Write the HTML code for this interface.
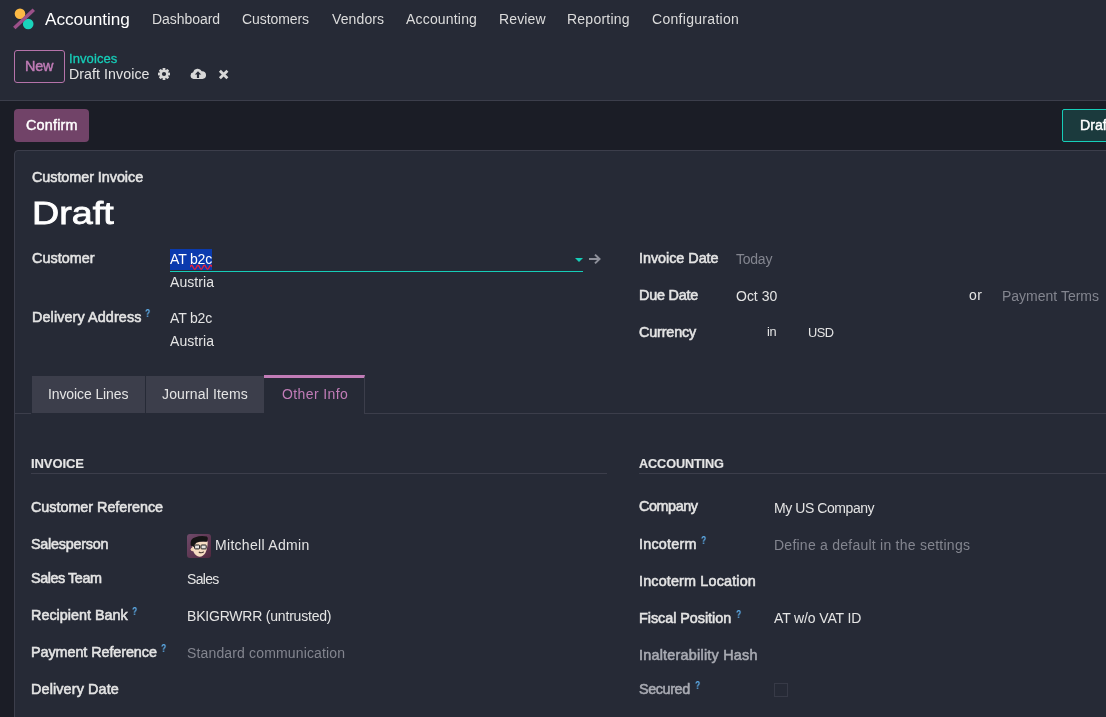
<!DOCTYPE html>
<html><head><meta charset="utf-8"><style>
html,body{margin:0;padding:0;}
body{width:1106px;height:717px;overflow:hidden;position:relative;background:#1b1d26;font-family:"Liberation Sans",sans-serif;}
.t{position:absolute;white-space:nowrap;will-change:transform;}
.r{position:absolute;box-sizing:border-box;}
.qm{font-size:10px;line-height:10px;font-weight:700;color:#5fb0ee;transform:scaleX(0.85);transform-origin:0 0;}
</style></head><body>
<div class="r" style="left:0;top:0;width:1106px;height:100px;background:#262a36"></div>
<div class="r" style="left:0;top:100px;width:1106px;height:1px;background:#3c3e4b"></div>
<svg class="r" style="left:0;top:0" width="40" height="40" viewBox="0 0 40 40">
<circle cx="20" cy="13.7" r="5.3" fill="#fbb945"/>
<circle cx="28.2" cy="24" r="5.3" fill="#1ad3bb"/>
<line x1="14.3" y1="28" x2="33.8" y2="9.8" stroke="#9b5089" stroke-width="3.6"/>
</svg>
<div class="r" style="left:14px;top:50px;width:51px;height:33px;border:1px solid #b673aa;border-radius:3px"></div>
<div class="r" style="left:14px;top:109px;width:75px;height:33px;background:#714368;border-radius:4px"></div>
<div class="r" style="left:1062px;top:109px;width:60px;height:33px;background:#1b3a3d;border:1px solid #16cdb8;border-radius:2px"></div>
<div class="r" style="left:14px;top:150px;width:1110px;height:600px;background:#262a36;border:1px solid #3c3e4b;border-radius:4px"></div>
<!-- selection -->
<div class="r" style="left:170px;top:249px;width:42px;height:21px;background:#0a3aae"></div>
<div class="r" style="left:170px;top:271px;width:413px;height:1px;background:#16cdb8"></div>
<svg class="r" style="left:189.5px;top:263px" width="22.5" height="8" viewBox="0 0 22.5 8"><path d="M0 4.2 Q1.60 0.20 3.20 4.2 Q4.80 8.20 6.40 4.2 Q8.00 0.20 9.60 4.2 Q11.20 8.20 12.80 4.2 Q14.40 0.20 16.00 4.2 Q17.60 8.20 19.20 4.2 Q20.80 0.20 22.40 4.2" fill="none" stroke="#e01f3d" stroke-width="1.4"/></svg>
<svg class="r" style="left:574px;top:257px" width="10" height="6" viewBox="0 0 10 6"><path d="M1 1 H9 L5 5 Z" fill="#16cdb8"/></svg>
<svg class="r" style="left:587px;top:253px" width="15" height="12" viewBox="0 0 15 12"><path d="M2 6 H12.5 M8 1.6 L12.5 6 L8 10.4" fill="none" stroke="#8e909a" stroke-width="2"/></svg>
<!-- tabs -->
<div class="r" style="left:14px;top:413px;width:17px;height:1px;background:#3c3e4b"></div>
<div class="r" style="left:365px;top:413px;width:741px;height:1px;background:#3c3e4b"></div>
<div class="r" style="left:32px;top:376px;width:113px;height:37px;background:#3c3e4b"></div>
<div class="r" style="left:146px;top:376px;width:118px;height:37px;background:#3c3e4b"></div>
<div class="r" style="left:264px;top:375px;width:101px;height:39px;background:#262a36;border-top:3px solid #c17cb7;border-right:1px solid #3c3e4b"></div>
<!-- separators -->
<div class="r" style="left:31px;top:473px;width:576px;height:1px;background:#3c3e4b"></div>
<div class="r" style="left:639px;top:473px;width:467px;height:1px;background:#3c3e4b"></div>
<!-- avatar -->
<svg class="r" style="left:187px;top:534px" width="24" height="24" viewBox="0 0 24 24">
<defs><linearGradient id="ag" x1="0" y1="0" x2="1" y2="1"><stop offset="0" stop-color="#6f4a6a"/><stop offset="1" stop-color="#52283f"/></linearGradient></defs>
<rect x="0" y="0" width="24" height="24" rx="3" fill="url(#ag)"/>
<circle cx="5.6" cy="15.3" r="1.9" fill="#f3d2b4"/>
<path d="M5 7.5 Q4.6 21.5 12.5 22.8 Q20.4 22 20.7 7.5 Z" fill="#f6dcc2"/>
<path d="M3.6 11.5 Q2.6 4.5 8.5 3.2 Q14 1.4 19.8 2.6 Q22 4.5 19.6 7.8 Q14 7 9.5 8.8 Q7.4 10 7.2 13 Z" fill="#151515"/>
<rect x="7.6" y="11" width="5" height="3.9" rx="0.8" fill="#e8e4e0" stroke="#1c1c1c" stroke-width="1"/>
<rect x="14" y="11" width="5.2" height="3.9" rx="0.8" fill="#e8e4e0" stroke="#1c1c1c" stroke-width="1"/>
<path d="M11.8 18 Q14.3 19.6 16.8 17.8" fill="none" stroke="#4a3a35" stroke-width="1.1"/>
</svg>
<!-- checkbox -->
<div class="r" style="left:774px;top:683px;width:14px;height:14px;border:1px solid #373a47"></div>
<!-- icons -->
<svg class="r" style="left:157px;top:67px" width="14" height="14" viewBox="0 0 14 14">
<g transform="translate(7 7)" fill="#d8d8d8">
<circle r="4.3"/>
<rect x="-1.4" y="-6" width="2.8" height="12" rx="0.6"/>
<rect x="-1.4" y="-6" width="2.8" height="12" rx="0.6" transform="rotate(45)"/>
<rect x="-1.4" y="-6" width="2.8" height="12" rx="0.6" transform="rotate(90)"/>
<rect x="-1.4" y="-6" width="2.8" height="12" rx="0.6" transform="rotate(135)"/>
</g><circle cx="7" cy="7" r="2.1" fill="#262a36"/>
</svg>
<svg class="r" style="left:189.6px;top:67px" width="16" height="13" viewBox="0 0 16 13">
<path d="M3.6 12 A3.4 3.4 0 0 1 3.2 5.3 A4.6 4.6 0 0 1 11.8 4.2 A3.9 3.9 0 0 1 12.4 12 Z" fill="#d8d8d8"/>
<path d="M8 4.2 L4.8 7.5 H6.9 V11 H9.1 V7.5 H11.2 Z" fill="#262a36"/>
</svg>
<svg class="r" style="left:218px;top:69px" width="12" height="12" viewBox="0 0 12 12">
<path d="M1.9 1.8 L9.4 9.3 M9.4 1.8 L1.9 9.3" stroke="#d8d8d8" stroke-width="2.8"/>
</svg>
<div class="t" style="left:45.20px;top:11.44px;font-size:17.2px;line-height:17.2px;font-weight:400;color:#ffffff;letter-spacing:-0.012px">Accounting</div><div class="t" style="left:151.80px;top:12.45px;font-size:14px;line-height:14px;font-weight:400;color:#dcdcdc;letter-spacing:-0.049px">Dashboard</div><div class="t" style="left:242.30px;top:12.45px;font-size:14px;line-height:14px;font-weight:400;color:#dcdcdc;letter-spacing:-0.073px">Customers</div><div class="t" style="left:331.90px;top:12.45px;font-size:14px;line-height:14px;font-weight:400;color:#dcdcdc;letter-spacing:0.121px">Vendors</div><div class="t" style="left:405.90px;top:12.45px;font-size:14px;line-height:14px;font-weight:400;color:#dcdcdc;letter-spacing:0.181px">Accounting</div><div class="t" style="left:499.00px;top:12.45px;font-size:14px;line-height:14px;font-weight:400;color:#dcdcdc;letter-spacing:0.119px">Review</div><div class="t" style="left:566.90px;top:12.45px;font-size:14px;line-height:14px;font-weight:400;color:#dcdcdc;letter-spacing:0.237px">Reporting</div><div class="t" style="left:652.40px;top:12.45px;font-size:14px;line-height:14px;font-weight:400;color:#dcdcdc;letter-spacing:0.302px">Configuration</div><div class="t" style="left:24.60px;top:58.91px;font-size:14.4px;line-height:14.4px;font-weight:400;color:#c17cb7;letter-spacing:-0.204px;-webkit-text-stroke:0.45px #c17cb7">New</div><div class="t" style="left:69.40px;top:51.80px;font-size:13px;line-height:13px;font-weight:400;color:#16cdb8;letter-spacing:0.087px;-webkit-text-stroke:0.30px #16cdb8">Invoices</div><div class="t" style="left:68.80px;top:66.98px;font-size:14.2px;line-height:14.2px;font-weight:400;color:#e4e4e4;letter-spacing:0.066px">Draft Invoice</div><div class="t" style="left:25.70px;top:117.91px;font-size:14.4px;line-height:14.4px;font-weight:400;color:#ffffff;letter-spacing:0.182px;-webkit-text-stroke:0.45px #ffffff">Confirm</div><div class="t" style="left:1079.90px;top:117.88px;font-size:14.2px;line-height:14.2px;font-weight:400;color:#ffffff;letter-spacing:0.000px;-webkit-text-stroke:0.45px #ffffff">Draft</div><div class="t" style="left:31.60px;top:169.61px;font-size:14.4px;line-height:14.4px;font-weight:400;color:#e4e4e4;letter-spacing:-0.056px;-webkit-text-stroke:0.55px #e4e4e4">Customer Invoice</div><div class="t" style="left:32.2px;top:198.16px;font-size:31px;line-height:31px;color:#ffffff;-webkit-text-stroke:0.8px #ffffff;transform:scaleX(1.2151);transform-origin:0 0">Draft</div><div class="t" style="left:31.50px;top:251.31px;font-size:14.4px;line-height:14.4px;font-weight:400;color:#e4e4e4;letter-spacing:0.012px;-webkit-text-stroke:0.55px #e4e4e4">Customer</div><div class="t" style="left:170.00px;top:252.05px;font-size:14px;line-height:14px;font-weight:400;color:#ffffff;letter-spacing:-0.172px">AT b2c</div><div class="t" style="left:170.00px;top:274.85px;font-size:14px;line-height:14px;font-weight:400;color:#e4e4e4;letter-spacing:0.071px">Austria</div><div class="t" style="left:31.50px;top:309.71px;font-size:14.4px;line-height:14.4px;font-weight:400;color:#e4e4e4;letter-spacing:0.097px;-webkit-text-stroke:0.55px #e4e4e4">Delivery Address</div><div class="t qm" style="left:144.70px;top:309.20px">?</div><div class="t" style="left:170.00px;top:311.05px;font-size:14px;line-height:14px;font-weight:400;color:#e4e4e4;letter-spacing:-0.172px">AT b2c</div><div class="t" style="left:170.00px;top:333.85px;font-size:14px;line-height:14px;font-weight:400;color:#e4e4e4;letter-spacing:0.071px">Austria</div><div class="t" style="left:639.30px;top:251.31px;font-size:14.4px;line-height:14.4px;font-weight:400;color:#e4e4e4;letter-spacing:-0.040px;-webkit-text-stroke:0.55px #e4e4e4">Invoice Date</div><div class="t" style="left:736.40px;top:252.05px;font-size:14px;line-height:14px;font-weight:400;color:#83858f;letter-spacing:-0.240px">Today</div><div class="t" style="left:639.30px;top:287.81px;font-size:14.4px;line-height:14.4px;font-weight:400;color:#e4e4e4;letter-spacing:-0.219px;-webkit-text-stroke:0.55px #e4e4e4">Due Date</div><div class="t" style="left:736.00px;top:288.85px;font-size:14px;line-height:14px;font-weight:400;color:#e4e4e4;letter-spacing:-0.008px">Oct 30</div><div class="t" style="left:968.80px;top:288.15px;font-size:14px;line-height:14px;font-weight:400;color:#e4e4e4;letter-spacing:0.451px">or</div><div class="t" style="left:1001.80px;top:288.95px;font-size:14px;line-height:14px;font-weight:400;color:#83858f;letter-spacing:0.000px">Payment Terms</div><div class="t" style="left:639.30px;top:324.71px;font-size:14.4px;line-height:14.4px;font-weight:400;color:#e4e4e4;letter-spacing:-0.160px;-webkit-text-stroke:0.55px #e4e4e4">Currency</div><div class="t" style="left:766.90px;top:326.06px;font-size:12.8px;line-height:12.8px;font-weight:400;color:#e4e4e4;letter-spacing:-0.263px">in</div><div class="t" style="left:808.00px;top:327.06px;font-size:12.8px;line-height:12.8px;font-weight:400;color:#e4e4e4;letter-spacing:-0.563px">USD</div><div class="t" style="left:48.10px;top:386.95px;font-size:14px;line-height:14px;font-weight:400;color:#e4e4e4;letter-spacing:-0.102px">Invoice Lines</div><div class="t" style="left:162.10px;top:387.15px;font-size:14px;line-height:14px;font-weight:400;color:#e4e4e4;letter-spacing:0.147px">Journal Items</div><div class="t" style="left:281.50px;top:387.15px;font-size:14px;line-height:14px;font-weight:400;color:#c17cb7;letter-spacing:0.383px">Other Info</div><div class="t" style="left:31.40px;top:457.20px;font-size:13px;line-height:13px;font-weight:700;color:#e4e4e4;letter-spacing:-0.092px;-webkit-text-stroke:0.15px #e4e4e4">INVOICE</div><div class="t" style="left:639.20px;top:458.05px;font-size:12.7px;line-height:12.7px;font-weight:700;color:#e4e4e4;letter-spacing:-0.119px;-webkit-text-stroke:0.15px #e4e4e4">ACCOUNTING</div><div class="t" style="left:31.40px;top:499.81px;font-size:14.4px;line-height:14.4px;font-weight:400;color:#e4e4e4;letter-spacing:-0.039px;-webkit-text-stroke:0.55px #e4e4e4">Customer Reference</div><div class="t" style="left:31.40px;top:537.41px;font-size:14.4px;line-height:14.4px;font-weight:400;color:#e4e4e4;letter-spacing:-0.245px;-webkit-text-stroke:0.55px #e4e4e4">Salesperson</div><div class="t" style="left:214.60px;top:537.65px;font-size:14px;line-height:14px;font-weight:400;color:#e4e4e4;letter-spacing:0.303px">Mitchell Admin</div><div class="t" style="left:31.40px;top:571.21px;font-size:14.4px;line-height:14.4px;font-weight:400;color:#e4e4e4;letter-spacing:-0.442px;-webkit-text-stroke:0.55px #e4e4e4">Sales Team</div><div class="t" style="left:186.90px;top:572.45px;font-size:14px;line-height:14px;font-weight:400;color:#e4e4e4;letter-spacing:-0.680px">Sales</div><div class="t" style="left:31.40px;top:607.81px;font-size:14.4px;line-height:14.4px;font-weight:400;color:#e4e4e4;letter-spacing:-0.004px;-webkit-text-stroke:0.55px #e4e4e4">Recipient Bank</div><div class="t qm" style="left:132.40px;top:607.40px">?</div><div class="t" style="left:186.60px;top:608.95px;font-size:14px;line-height:14px;font-weight:400;color:#e4e4e4;letter-spacing:-0.202px">BKIGRWRR (untrusted)</div><div class="t" style="left:31.40px;top:644.71px;font-size:14.4px;line-height:14.4px;font-weight:400;color:#e4e4e4;letter-spacing:-0.079px;-webkit-text-stroke:0.55px #e4e4e4">Payment Reference</div><div class="t qm" style="left:161.40px;top:643.70px">?</div><div class="t" style="left:186.50px;top:645.55px;font-size:14px;line-height:14px;font-weight:400;color:#83858f;letter-spacing:0.149px">Standard communication</div><div class="t" style="left:31.40px;top:681.61px;font-size:14.4px;line-height:14.4px;font-weight:400;color:#e4e4e4;letter-spacing:0.122px;-webkit-text-stroke:0.55px #e4e4e4">Delivery Date</div><div class="t" style="left:639.20px;top:499.21px;font-size:14.4px;line-height:14.4px;font-weight:400;color:#e4e4e4;letter-spacing:-0.422px;-webkit-text-stroke:0.55px #e4e4e4">Company</div><div class="t" style="left:773.80px;top:501.35px;font-size:14px;line-height:14px;font-weight:400;color:#e4e4e4;letter-spacing:-0.434px">My US Company</div><div class="t" style="left:639.10px;top:537.21px;font-size:14.4px;line-height:14.4px;font-weight:400;color:#e4e4e4;letter-spacing:0.226px;-webkit-text-stroke:0.55px #e4e4e4">Incoterm</div><div class="t qm" style="left:701.00px;top:536.10px">?</div><div class="t" style="left:774.00px;top:537.55px;font-size:14px;line-height:14px;font-weight:400;color:#83858f;letter-spacing:0.244px">Define a default in the settings</div><div class="t" style="left:639.10px;top:574.01px;font-size:14.4px;line-height:14.4px;font-weight:400;color:#e4e4e4;letter-spacing:0.152px;-webkit-text-stroke:0.55px #e4e4e4">Incoterm Location</div><div class="t" style="left:639.10px;top:611.01px;font-size:14.4px;line-height:14.4px;font-weight:400;color:#e4e4e4;letter-spacing:-0.045px;-webkit-text-stroke:0.55px #e4e4e4">Fiscal Position</div><div class="t qm" style="left:735.60px;top:610.00px">?</div><div class="t" style="left:773.80px;top:611.35px;font-size:14px;line-height:14px;font-weight:400;color:#e4e4e4;letter-spacing:-0.129px">AT w/o VAT ID</div><div class="t" style="left:639.10px;top:648.11px;font-size:14.4px;line-height:14.4px;font-weight:400;color:#a9abb3;letter-spacing:0.230px;-webkit-text-stroke:0.55px #a9abb3">Inalterability Hash</div><div class="t" style="left:639.10px;top:681.81px;font-size:14.4px;line-height:14.4px;font-weight:400;color:#a9abb3;letter-spacing:-0.406px;-webkit-text-stroke:0.55px #a9abb3">Secured</div><div class="t qm" style="left:695.30px;top:681.00px">?</div>
</body></html>
